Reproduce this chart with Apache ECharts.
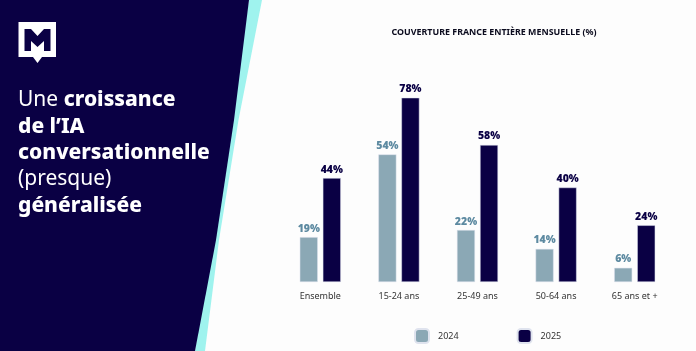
<!DOCTYPE html>
<html>
<head>
<meta charset="utf-8">
<style>
  html, body { margin: 0; padding: 0; background: #fff; }
  #chart { width: 696px; height: 351px; }
</style>
<script src="https://cdn.jsdelivr.net/npm/echarts@6/dist/echarts.min.js"></script>
</head>
<body>
<div id="chart"></div>
<script>
const categories = ['Ensemble', '15-24 ans', '25-49 ans', '50-64 ans', '65 ans et +'];
const values2024 = [19, 54, 22, 14, 6];
const values2025 = [44, 78, 58, 40, 24];
const chartTitle = 'COUVERTURE FRANCE ENTIÈRE MENSUELLE (%)';

const navy = '#0a0044';
const slate = '#8ba8b5';
const fontFamily = '"Noto Sans", sans-serif';
const labelFont = '"Open Sans", sans-serif';

// left panel headline, one row per line: [regular part, bold part]
const headline = [
  ['Une ', 'croissance'],
  ['', 'de l’IA'],
  ['', 'conversationnelle'],
  ['(presque)', ''],
  ['', 'généralisée']
];

const myChart = echarts.init(document.getElementById('chart'), null, { renderer: 'canvas' });

const headlineRows = headline.map(function (row, i) {
  return {
    type: 'text',
    left: 18,
    top: 90 + i * 26.3,
    z: 10,
    style: {
      text: (row[0] ? '{r|' + row[0] + '}' : '') + (row[1] ? '{b|' + row[1] + '}' : ''),
      rich: {
        r: { fill: '#fff', font: '400 21px ' + fontFamily },
        b: { fill: '#fff', font: '800 21px ' + fontFamily }
      }
    }
  };
});

const option = {
  animation: false,
  backgroundColor: '#fdfdfd',
  textStyle: { fontFamily: fontFamily },
  title: {
    text: chartTitle,
    left: 489,
    textAlign: 'center',
    top: 23,
    textStyle: { fontSize: 8.9, fontWeight: 700, color: '#0b0b1e' }
  },
  legend: {
    left: 409,
    top: 323,
    itemWidth: 14,
    itemHeight: 14,
    itemGap: 58,
    icon: 'roundRect',
    textStyle: { fontSize: 9, color: '#333', padding: [0, 0, 0, 4] },
    data: ['2024', '2025']
  },
  grid: { left: 281, right: 22, top: 93, bottom: 69 },
  xAxis: {
    type: 'category',
    data: categories,
    axisLine: { show: false },
    axisTick: { show: false },
    axisLabel: { fontSize: 9, color: '#333', margin: 10, interval: 0 }
  },
  yAxis: { type: 'value', min: 0, max: 80, show: false },
  series: [
    {
      name: '2024',
      type: 'bar',
      data: values2024,
      barWidth: 18,
      barGap: '28%',
      itemStyle: { color: slate, borderColor: '#dfe3ee', borderWidth: 0.5 },
      label: {
        show: true,
        position: 'top',
        distance: 3,
        formatter: '{c}%',
        fontFamily: labelFont,
        fontSize: 10.5,
        fontWeight: 800,
        color: '#5d8aa1'
      }
    },
    {
      name: '2025',
      type: 'bar',
      data: values2025,
      barWidth: 18,
      itemStyle: { color: navy, borderColor: '#dfe3ee', borderWidth: 0.5 },
      label: {
        show: true,
        position: 'top',
        distance: 3,
        formatter: '{c}%',
        fontFamily: labelFont,
        fontSize: 10.5,
        fontWeight: 800,
        color: navy
      }
    }
  ],
  graphic: [
    { type: 'polygon', z: 1, shape: { points: [[249, 0], [262, 0], [238.5, 120], [219, 240], [205, 351], [195, 351]] }, style: { fill: '#9ff3ee' } },
    { type: 'polygon', z: 2, shape: { points: [[0, 0], [249, 0], [234, 120], [216, 240], [195, 351], [0, 351]] }, style: { fill: navy } },
    // logo
    { type: 'polygon', z: 10, shape: { points: [[18.5, 22], [56, 22], [56, 57], [42, 57], [37.5, 63], [33, 57], [18.5, 57]] }, style: { fill: '#fff' } },
    { type: 'polygon', z: 11, shape: { points: [[24.5, 29], [31, 29], [37.5, 36], [44, 29], [50.5, 29], [50.5, 51], [44, 51], [44, 41], [37.5, 47], [31, 41], [31, 51], [24.5, 51]] }, style: { fill: navy } }
  ].concat(headlineRows)
};

myChart.setOption(option);
</script>
</body>
</html>
